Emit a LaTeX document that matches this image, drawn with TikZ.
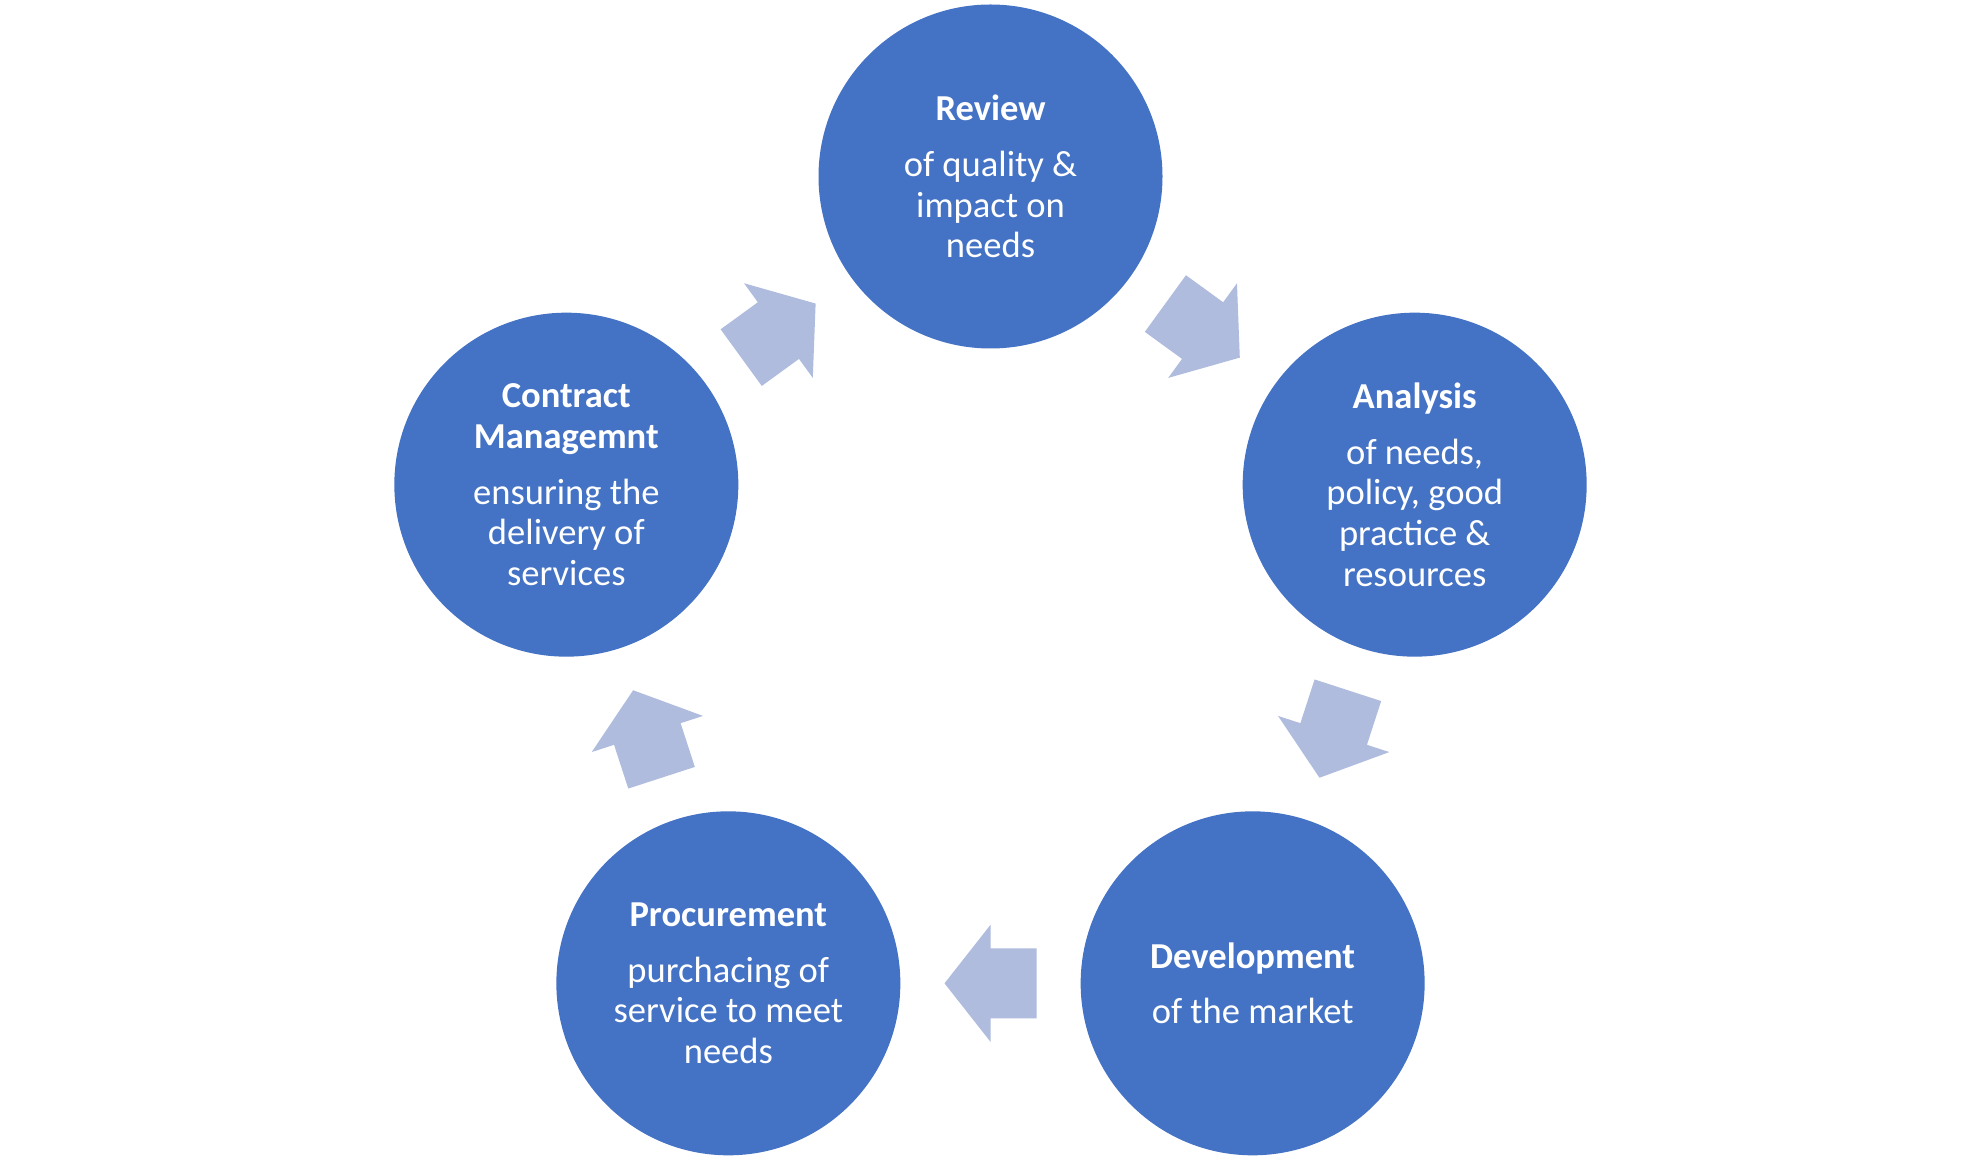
\documentclass[tikz,border=0pt]{standalone}
\usepackage{fontspec}
\setmainfont{Carlito}
\usepackage{xcolor}
\usetikzlibrary{calc}
\usetikzlibrary{positioning}
\definecolor{stageblue}{RGB}{68,114,196}
\definecolor{arrowblue}{RGB}{175,188,222}

\tikzset{
	stage/.style={circle,fill=stageblue,text=white,minimum size=3.44cm,inner sep=0pt,align=center,font=\fontsize{10.4}{11.6}\selectfont},
	blockarrow/.pic={\fill[arrowblue] (-0.46,-0.35) -- (0,-0.35) -- (0,-0.585) -- (0.46,0) -- (0,0.585) -- (0,0.35) -- (-0.46,0.35) -- cycle;}
}

\begin{document}
\begin{tikzpicture}
	\useasboundingbox (0,0) rectangle (19.8,11.6);
	\coordinate (C) at (9.905,5.375);
	
	\node [stage] (review) at ($(C)+(90:4.46)$) {\textbf{Review}\\[4.3pt]of quality \&\\impact on\\needs};
	\node [stage] (analysis) at ($(C)+(18:4.46)$) {\textbf{Analysis}\\[4.3pt]of needs,\\policy, good\\practice \&\\resources};
	\node [stage] (development) at ($(C)+(-54:4.46)$) {\textbf{Development}\\[4.3pt]of the market};
	\node [stage] (procurement) at ($(C)+(234:4.46)$) {\textbf{Procurement}\\[4.3pt]purchacing of\\service to meet\\needs};
	\node [stage] (contract) at ($(C)+(162:4.46)$) {\textbf{Contract}\\\textbf{Managemnt}\\[4.3pt]ensuring the\\delivery of\\services};
	
	% arrows round the cycle
	\pic [rotate=-36] at ($(review)!.5!(analysis)$) {blockarrow};
	\pic [rotate=-108] at ($(analysis)!.5!(development)$) {blockarrow};
	\pic [rotate=180] at ($(development)!.5!(procurement)$) {blockarrow};
	\pic [rotate=108] at ($(procurement)!.5!(contract)$) {blockarrow};
	\pic [rotate=36] at ($(contract)!.5!(review)$) {blockarrow};
	
\end{tikzpicture}
\end{document}
